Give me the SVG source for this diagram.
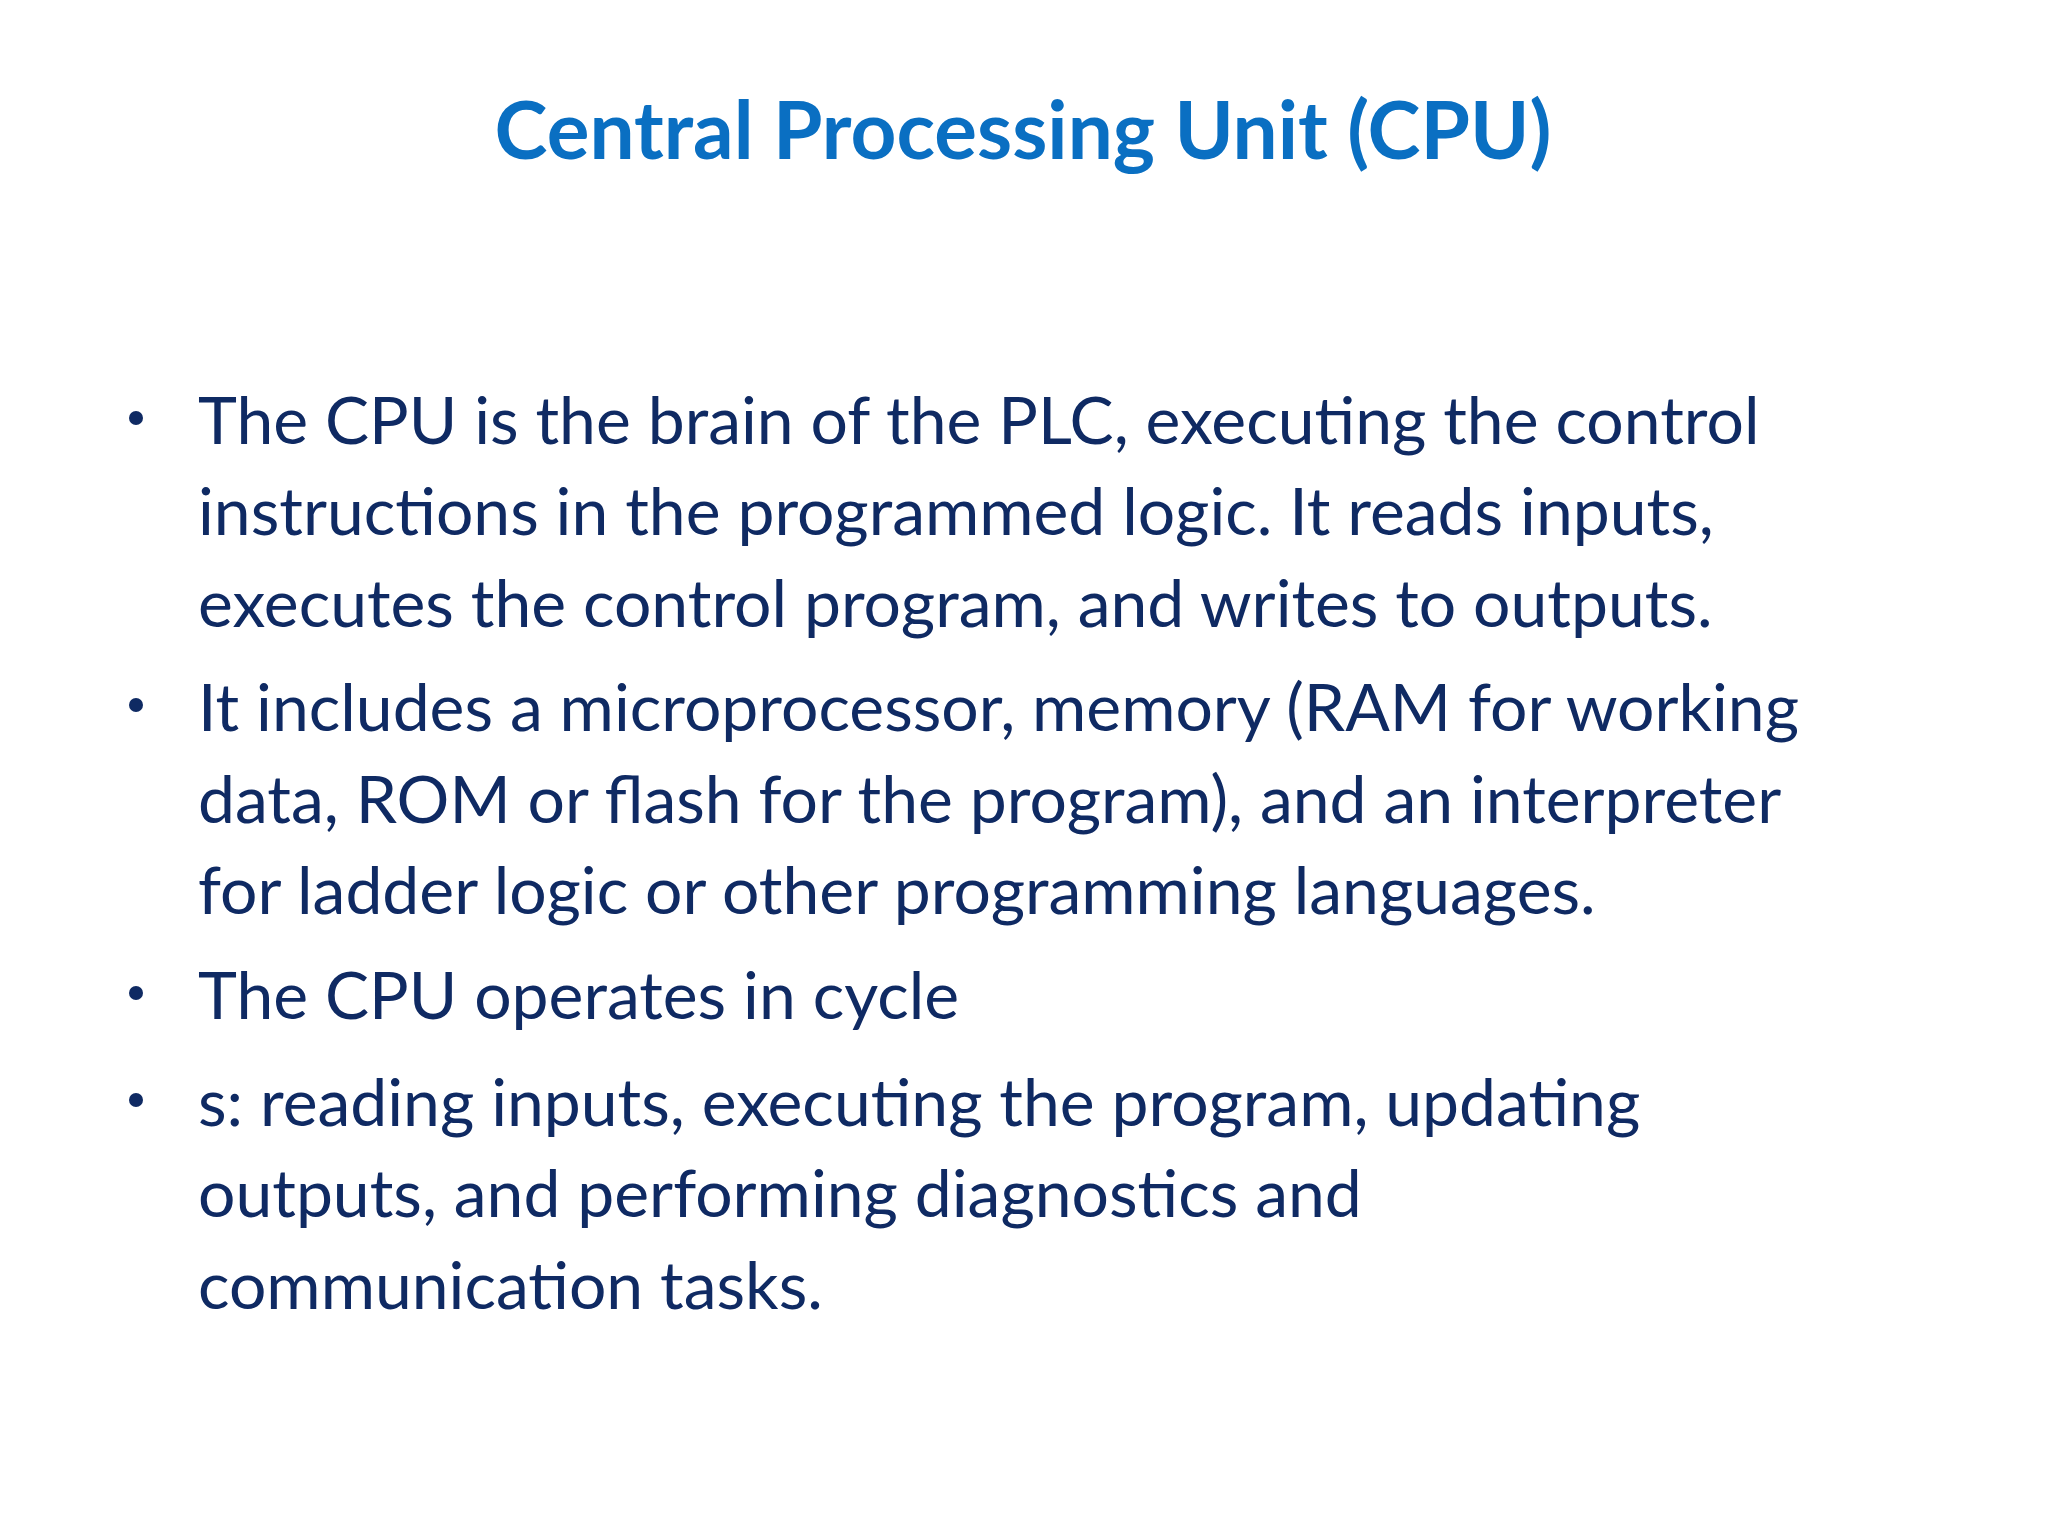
<svg xmlns="http://www.w3.org/2000/svg" width="2048" height="1536" viewBox="0 0 2048 1536">
<style>
.t{font-family:Lato,"Open Sans",sans-serif;font-weight:bold;font-size:80px;fill:#0a6fc2}
.b{font-family:Lato,"Open Sans",sans-serif;font-size:66px;fill:#0f2a63}
.d{fill:#0f2a63}
</style>
<rect width="2048" height="1536" fill="#ffffff"/>
<g id="title"><text class="t" x="1023" y="159" text-anchor="middle">Central Processing Unit (CPU)</text></g>
<g id="bullets">
<circle class="d" cx="136" cy="418" r="7"/>
<circle class="d" cx="136" cy="705" r="7"/>
<circle class="d" cx="136" cy="993" r="7"/>
<circle class="d" cx="136" cy="1100" r="7"/>
<text class="b" x="198" y="444">The CPU is the brain of the PLC, executing the control</text>
<text class="b" x="198" y="535">instructions in the programmed logic. It reads inputs,</text>
<text class="b" x="198" y="627">executes the control program, and writes to outputs.</text>
<text class="b" x="198" y="731">It includes a microprocessor, memory (RAM for working</text>
<text class="b" x="198" y="823">data, ROM or flash for the program), and an interpreter</text>
<text class="b" x="198" y="914">for ladder logic or other programming languages.</text>
<text class="b" x="198" y="1019">The CPU operates in cycle</text>
<text class="b" x="198" y="1126">s: reading inputs, executing the program, updating</text>
<text class="b" x="198" y="1217">outputs, and performing diagnostics and</text>
<text class="b" x="198" y="1309">communication tasks.</text>
</g>
</svg>
